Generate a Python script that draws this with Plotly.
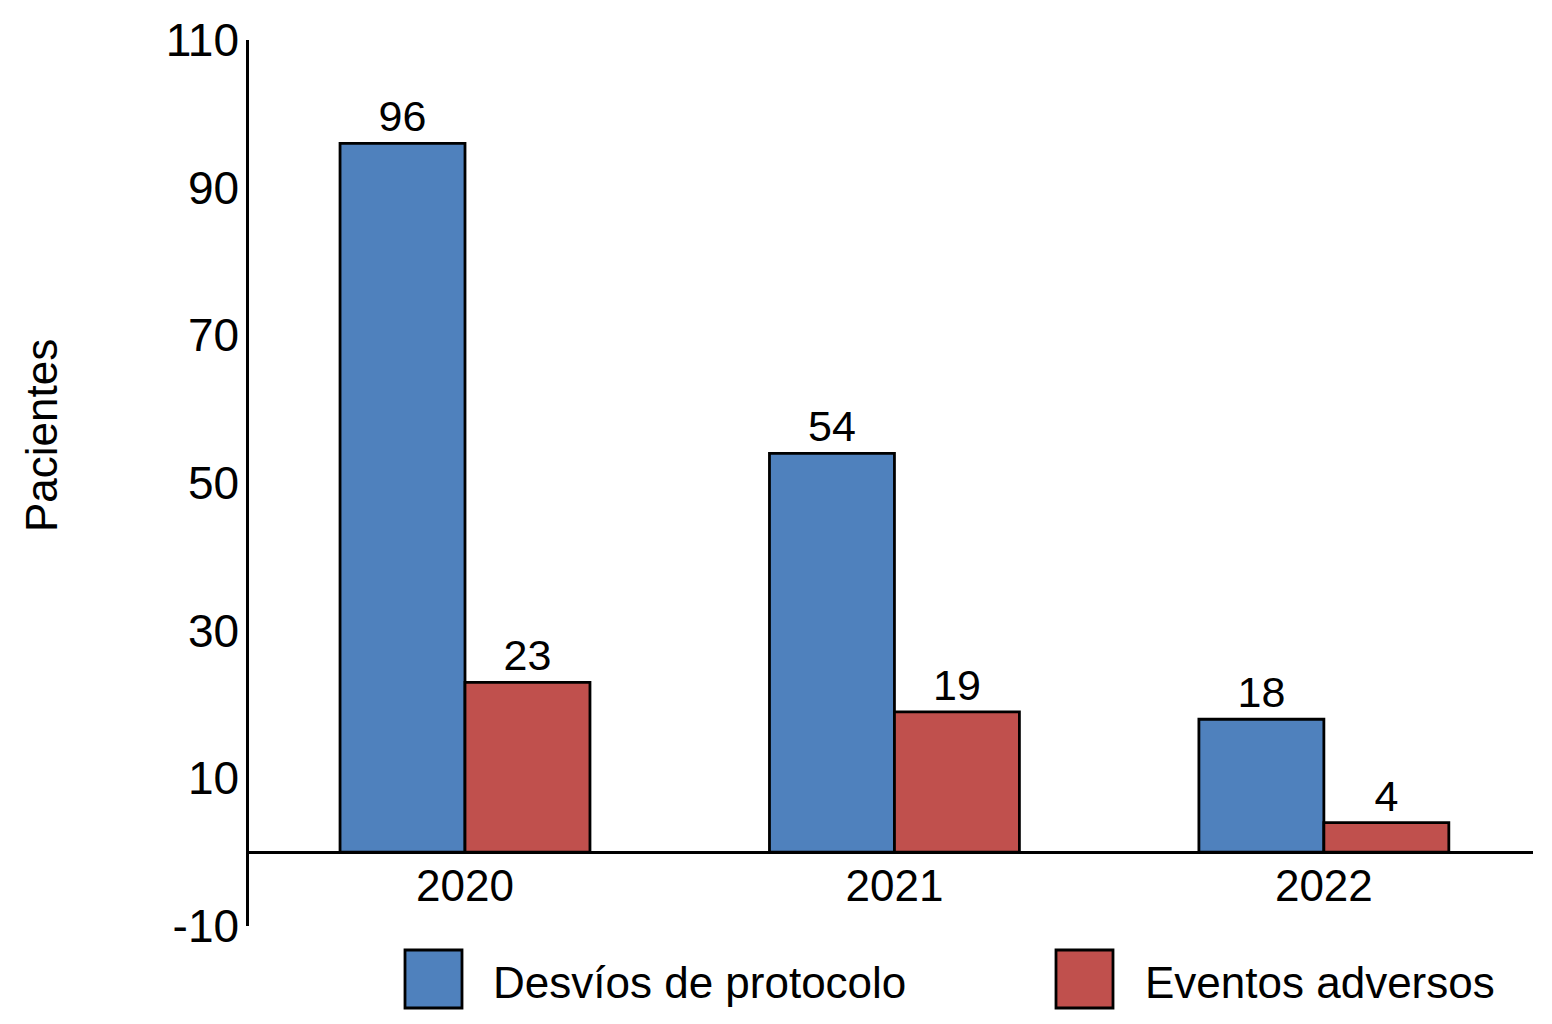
import plotly.graph_objects as go

years = ["2020", "2021", "2022"]
desvios = [96, 54, 18]
eventos = [23, 19, 4]
series_names = ["Desvíos de protocolo", "Eventos adversos"]
colors = ["#4F81BD", "#C0504D"]
y_ticks = [-10, 10, 30, 50, 70, 90, 110]
y_range = [-10, 110]

FONT = "Liberation Sans, Arial, sans-serif"

W, H = 1552, 1024
L, R, T, B = 249, 19, 40, 98
pw, ph = W - L - R, H - T - B


def px_x(x):
    return (x - L) / pw


def px_y(y):
    return (H - B - y) / ph


fig = go.Figure()
for name, vals, col in zip(series_names, [desvios, eventos], colors):
    fig.add_trace(go.Bar(
        x=years, y=vals, name=name,
        marker=dict(color=col, line=dict(color="black", width=2.8)),
        text=[str(v) for v in vals], textposition="outside",
        textfont=dict(family=FONT, size=43, color="black"),
        cliponaxis=False,
    ))

fig.update_layout(
    width=W, height=H,
    margin=dict(l=L, r=R, t=T, b=B),
    paper_bgcolor="white", plot_bgcolor="white",
    barmode="group", bargap=0.418, bargroupgap=0,
    showlegend=False,
    font=dict(family=FONT, color="black"),
)
# x axis drawn along y = 0
zero_pos = (0 - y_range[0]) / (y_range[1] - y_range[0])
fig.update_xaxes(type="category", range=[-0.503, 2.487], anchor="free", position=zero_pos,
                 showline=True, linecolor="black", linewidth=2.5,
                 showgrid=False, zeroline=False, ticks="", ticklen=0,
                 tickfont=dict(family=FONT, size=44, color="black"),
                 ticklabelstandoff=-6)
fig.update_yaxes(range=y_range, tickvals=y_ticks, ticktext=[str(t) for t in y_ticks],
                 tickfont=dict(family=FONT, size=46, color="black"),
                 showline=True, linecolor="black", linewidth=2.5,
                 showgrid=False, zeroline=False,
                 ticks="", ticklen=0, ticklabelstandoff=-2)

# y axis title
fig.add_annotation(x=px_x(41), y=px_y(436), xref="paper", yref="paper", text="Pacientes",
                   showarrow=False, textangle=-90, xanchor="center", yanchor="middle",
                   font=dict(family=FONT, size=44, color="black"))

# manual legend (large swatches)
leg = [(405, 462, 491), (1056, 1113, 1143)]
for (x0, x1, xt), name, col in zip(leg, series_names, colors):
    fig.add_shape(type="rect", xref="paper", yref="paper",
                  x0=px_x(x0), x1=px_x(x1), y0=px_y(1008), y1=px_y(950),
                  fillcolor=col, line=dict(color="black", width=2.8))
    fig.add_annotation(x=px_x(xt), y=px_y(982), xref="paper", yref="paper", text=name,
                       showarrow=False, xanchor="left", yanchor="middle",
                       font=dict(family=FONT, size=44, color="black"))

fig.write_html("out.html", config={"displayModeBar": False},
               post_script="document.body.style.margin='0px';")
